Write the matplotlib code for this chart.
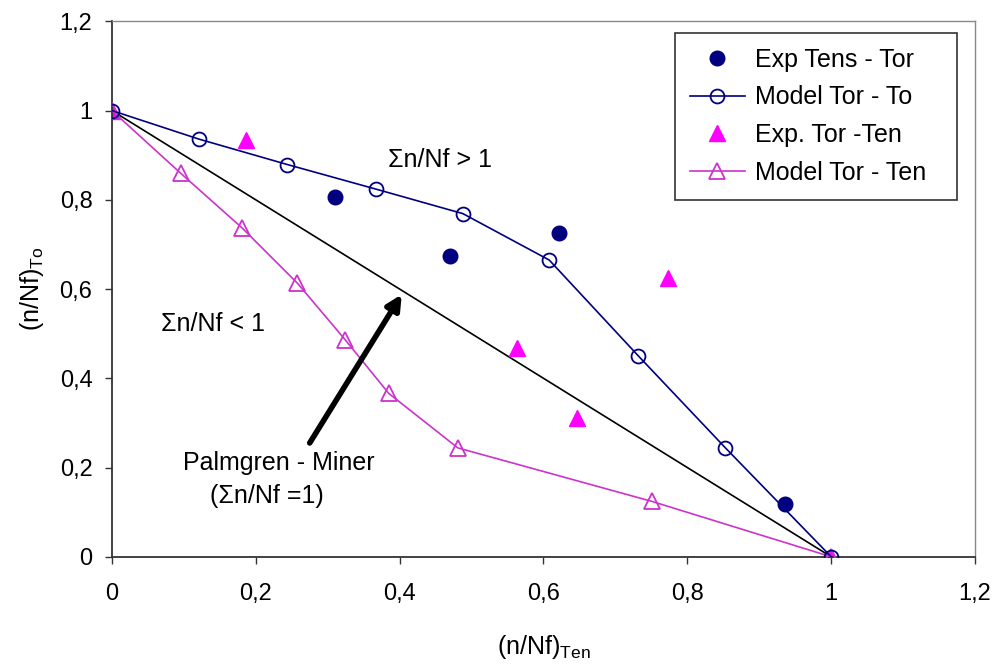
import matplotlib.pyplot as plt

plt.rcParams['font.family'] = ['Liberation Sans', 'DejaVu Sans']
plt.rcParams['mathtext.fontset'] = 'custom'
plt.rcParams['mathtext.rm'] = 'Liberation Sans'

# data
exp_tens_tor_x = [0.31, 0.47, 0.622, 0.936]
exp_tens_tor_y = [0.806, 0.673, 0.726, 0.119]

model_tor_to_x = [0.0, 0.121, 0.244, 0.367, 0.488, 0.608, 0.732, 0.853, 1.0]
model_tor_to_y = [1.0, 0.936, 0.879, 0.824, 0.769, 0.665, 0.45, 0.244, 0.0]

exp_tor_ten_x = [0.0, 0.186, 0.563, 0.646, 0.773, 1.0]
exp_tor_ten_y = [1.0, 0.933, 0.468, 0.311, 0.625, 0.0]

model_tor_ten_x = [0.0, 0.096, 0.181, 0.258, 0.3245, 0.385, 0.481, 0.751, 1.0]
model_tor_ten_y = [1.0, 0.859, 0.737, 0.613, 0.486, 0.366, 0.244, 0.124, 0.0]

miner_x = [0.0, 1.0]
miner_y = [1.0, 0.0]

ticks = [0, 0.2, 0.4, 0.6, 0.8, 1, 1.2]
tick_labels = ['0', '0,2', '0,4', '0,6', '0,8', '1', '1,2']

navy = '#000080'
magenta = '#FF00FF'
violet = '#CC33CC'

fig = plt.figure(figsize=(9.99, 6.66), dpi=100)
ax = fig.add_axes([0.112, 0.164, 0.864, 0.804])

ax.plot(miner_x, miner_y, color='black', lw=1.2, zorder=1)
ax.plot(exp_tens_tor_x, exp_tens_tor_y, 'o', color=navy, ms=10.5, ls='none',
        label='Exp Tens - Tor    ', zorder=3)
ax.plot(model_tor_to_x, model_tor_to_y, '-o', color=navy, mfc='none', mec=navy,
        ms=10, mew=1.3, lw=1.2, label='Model Tor - To', zorder=4)
ax.plot(exp_tor_ten_x, exp_tor_ten_y, '^', color=magenta, ms=12, ls='none',
        label='Exp. Tor -Ten', zorder=2)
ax.plot(model_tor_ten_x, model_tor_ten_y, '-^', color=violet, mfc='none', mec=violet,
        ms=12, mew=1.3, lw=1.2, label='Model Tor - Ten', zorder=3)

ax.set_xlim(0, 1.2)
ax.set_ylim(0, 1.2)
ax.set_xticks(ticks)
ax.set_xticklabels(tick_labels)
ax.set_yticks(ticks)
ax.set_yticklabels(tick_labels)
ax.tick_params(labelsize=17, direction='out', length=5, width=1, colors='#333333',
               labelcolor='black')
ax.tick_params(axis='x', pad=14)
ax.tick_params(axis='y', pad=9)

for s in ['left', 'bottom']:
    ax.spines[s].set_color('#333333')
    ax.spines[s].set_linewidth(1.3)
for s in ['top', 'right']:
    ax.spines[s].set_color('#888888')
    ax.spines[s].set_linewidth(1.0)

ax.set_xlabel(r'(n/Nf)$_{\mathrm{Ten}}$', fontsize=18, labelpad=20)
ax.set_ylabel(r'(n/Nf)$_{\mathrm{To}}$', fontsize=18, labelpad=10)

ax.text(0.384, 0.89, 'Σn/Nf > 1', fontsize=18, va='center')
ax.text(0.068, 0.522, 'Σn/Nf < 1', fontsize=18, va='center')
ax.text(0.099, 0.21, 'Palmgren - Miner', fontsize=18, va='center')
ax.text(0.136, 0.137, '(Σn/Nf =1)', fontsize=18, va='center')

ax.annotate('', xy=(0.403, 0.588), xytext=(0.275, 0.255),
            arrowprops=dict(arrowstyle='-|>', color='black', lw=4, mutation_scale=22,
                            shrinkA=0, shrinkB=0))

leg = ax.legend(loc='upper right', bbox_to_anchor=(0.979, 0.979), fontsize=18,
                frameon=True, fancybox=False, edgecolor='black', handlelength=2.2,
                handletextpad=0.4, labelspacing=0.55, borderpad=0.6, borderaxespad=0)
leg.get_frame().set_linewidth(1.2)

fig.savefig('out.png', dpi=100)
